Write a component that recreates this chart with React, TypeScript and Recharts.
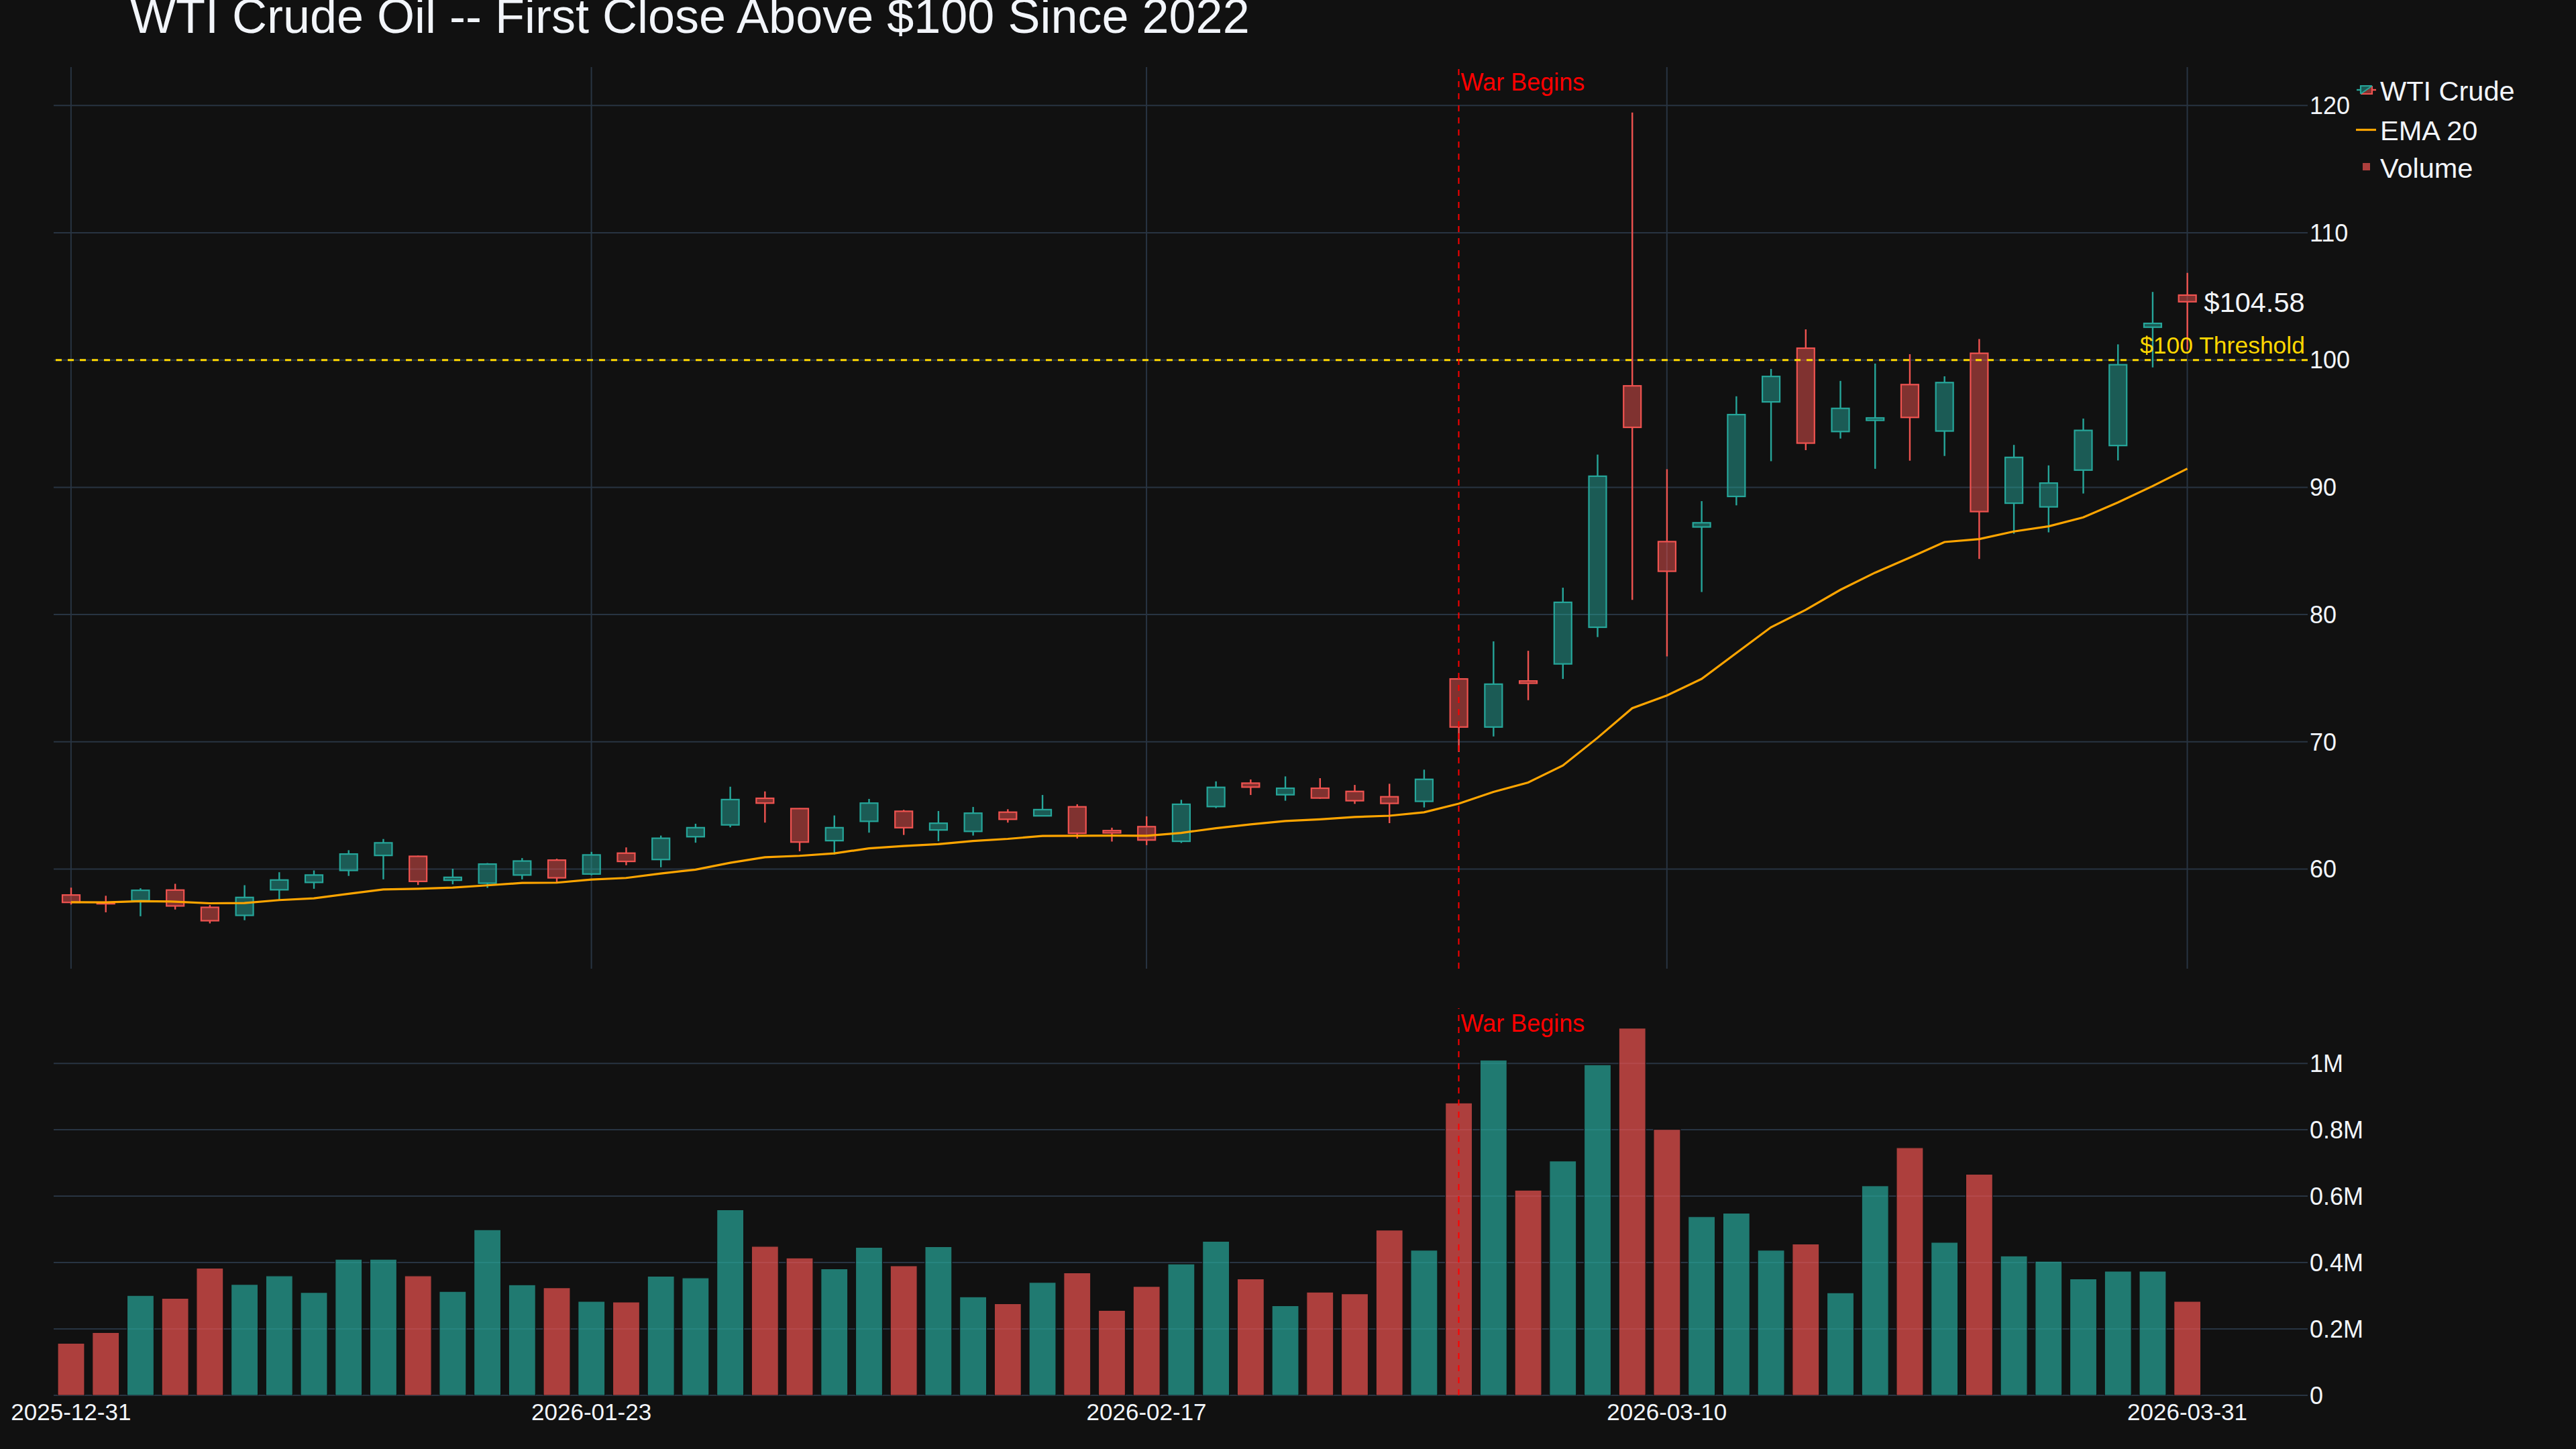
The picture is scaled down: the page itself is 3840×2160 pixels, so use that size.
import React from 'react';
import {
  ComposedChart,
  Bar,
  Line,
  XAxis,
  YAxis,
  CartesianGrid,
  ReferenceLine,
  ReferenceDot,
  Legend,
  Cell,
} from 'recharts';

// trading days shown on the chart
const DATES = [
  '2025-12-31', '2026-01-02', '2026-01-05', '2026-01-06', '2026-01-07', '2026-01-08', '2026-01-09',
  '2026-01-12', '2026-01-13', '2026-01-14', '2026-01-15', '2026-01-16',
  '2026-01-20', '2026-01-21', '2026-01-22', '2026-01-23',
  '2026-01-26', '2026-01-27', '2026-01-28', '2026-01-29', '2026-01-30',
  '2026-02-02', '2026-02-03', '2026-02-04', '2026-02-05', '2026-02-06',
  '2026-02-09', '2026-02-10', '2026-02-11', '2026-02-12', '2026-02-13',
  '2026-02-17', '2026-02-18', '2026-02-19', '2026-02-20',
  '2026-02-23', '2026-02-24', '2026-02-25', '2026-02-26', '2026-02-27',
  '2026-03-02', '2026-03-03', '2026-03-04', '2026-03-05', '2026-03-06',
  '2026-03-09', '2026-03-10', '2026-03-11', '2026-03-12', '2026-03-13',
  '2026-03-16', '2026-03-17', '2026-03-18', '2026-03-19', '2026-03-20',
  '2026-03-23', '2026-03-24', '2026-03-25', '2026-03-26', '2026-03-27',
  '2026-03-30', '2026-03-31',
];

const OPEN = [
  57.96, 57.35, 57.52, 58.35, 56.99, 56.36, 58.37, 58.95, 59.89, 61.07,
  61.0, 59.12, 58.89, 59.53, 60.7, 59.61, 61.25, 60.75, 62.54, 63.47,
  65.56, 64.75, 62.23, 63.75, 64.54, 63.07, 62.96, 64.47, 64.18, 64.89,
  63.02, 63.33, 62.18, 64.91, 66.75, 65.84, 66.35, 66.1, 65.68, 65.32,
  74.94, 71.16, 74.78, 76.12, 79.0, 97.97, 85.73, 86.88, 89.28, 96.71,
  100.93, 94.38, 95.26, 98.07, 94.42, 100.53, 88.75, 88.46, 91.35, 93.28,
  102.58, 105.1,
];

const HIGH = [
  58.54, 57.9, 58.49, 58.84, 57.17, 58.73, 59.75, 59.89, 61.48, 62.36,
  61.05, 60.02, 60.47, 60.86, 60.81, 61.35, 61.7, 62.63, 63.56, 66.47,
  66.1, 64.78, 64.21, 65.51, 64.65, 64.56, 64.88, 64.7, 65.82, 65.09,
  63.25, 64.14, 65.44, 66.89, 67.04, 67.28, 67.14, 66.61, 66.7, 67.81,
  75.05, 77.89, 77.15, 82.11, 92.57, 119.45, 91.42, 88.91, 97.15, 99.3,
  102.41, 98.36, 99.72, 100.46, 98.72, 101.65, 93.33, 91.72, 95.4, 101.23,
  105.35, 106.85,
];

const LOW = [
  57.21, 56.6, 56.29, 56.82, 55.73, 55.98, 57.56, 58.45, 59.46, 59.19,
  58.75, 58.8, 58.52, 59.19, 58.93, 59.51, 60.3, 60.14, 62.07, 63.28,
  63.65, 61.4, 61.14, 62.86, 62.68, 62.19, 62.63, 63.65, 64.15, 62.4,
  62.16, 61.88, 62.05, 64.79, 65.82, 65.37, 65.53, 65.12, 63.61, 64.84,
  69.2, 70.42, 73.27, 74.94, 78.23, 81.15, 76.71, 81.77, 88.58, 92.05,
  92.92, 93.83, 91.45, 92.09, 92.46, 84.37, 86.35, 86.46, 89.51, 92.11,
  99.42, 100.8,
];

const CLOSE = [
  57.38, 57.3, 58.33, 57.1, 55.94, 57.77, 59.14, 59.53, 61.18, 62.06,
  59.03, 59.35, 60.39, 60.63, 59.31, 61.11, 60.6, 62.42, 63.25, 65.46,
  65.18, 62.12, 63.25, 65.18, 63.25, 63.6, 64.39, 63.91, 64.67, 62.81,
  62.84, 62.28, 65.09, 66.42, 66.44, 66.35, 65.58, 65.37, 65.16, 67.05,
  71.16, 74.53, 74.6, 80.96, 90.87, 94.71, 83.4, 87.21, 95.71, 98.71,
  93.47, 96.2, 95.45, 95.49, 98.23, 88.09, 92.35, 90.33, 94.47, 99.63,
  102.88, 104.58,
];

const EMA20 = [
  57.4, 57.38, 57.47, 57.44, 57.31, 57.33, 57.56, 57.7, 58.05, 58.4,
  58.45, 58.54, 58.72, 58.91, 58.93, 59.17, 59.3, 59.65, 59.95, 60.49,
  60.93, 61.04, 61.23, 61.63, 61.81, 61.96, 62.21, 62.37, 62.6, 62.61,
  62.63, 62.61, 62.84, 63.21, 63.51, 63.77, 63.91, 64.09, 64.19, 64.46,
  65.14, 66.06, 66.8, 68.13, 70.31, 72.64, 73.64, 74.94, 76.97, 79.0,
  80.37, 81.94, 83.29, 84.47, 85.7, 85.93, 86.53, 86.93, 87.63, 88.81,
  90.09, 91.46,
];

const VOLUME = [
  157000, 189000, 301000, 292000, 383000, 334000, 360000, 310000, 410000, 410000,
  360000, 313000, 499000, 333000, 324000, 283000, 281000, 359000, 354000, 559000,
  449000, 414000, 381000, 446000, 390000, 448000, 297000, 276000, 340000, 369000,
  256000, 328000, 396000, 464000, 351000, 270000, 311000, 306000, 498000, 437000,
  881000, 1010000, 618000, 706000, 996000, 1106000, 801000, 538000, 549000, 437000,
  456000, 309000, 631000, 746000, 461000, 666000, 420000, 404000, 351000, 374000,
  374000, 283000,
];

const TICK_DATES = ['2025-12-31', '2026-01-23', '2026-02-17', '2026-03-10', '2026-03-31'];
const PRICE_TICKS = [60, 70, 80, 90, 100, 110, 120];
const VOLUME_TICKS = [0, 200000, 400000, 600000, 800000, 1000000];
const WAR_DATE = '2026-03-02';
const THRESHOLD = 100;

const UP = '#26a69a';
const DOWN = '#ef5350';
const EMA_COLOR = '#FFA500';
const GRID = '#283442';
const TEXT = '#f2f5fa';
const BG = '#111111';
const FONT = '"Liberation Sans", Arial, Helvetica, sans-serif';

const W = 3840;
const PLOT_LEFT = 80;
const AXIS_W = 400;
const X_DOMAIN: [number, number] = [-0.5, 64.47];

const data = DATES.map((date, i) => ({
  i,
  date,
  open: OPEN[i],
  high: HIGH[i],
  low: LOW[i],
  close: CLOSE[i],
  ema: EMA20[i],
  volume: VOLUME[i],
}));

const xTicks = TICK_DATES.map((d) => DATES.indexOf(d));
const warIndex = DATES.indexOf(WAR_DATE);
const last = data[data.length - 1];

function Candle(props: any) {
  const { x, y, width, height, payload } = props;
  if (!payload || height == null) return null;
  const up = payload.close >= payload.open;
  const color = up ? UP : DOWN;
  const span = payload.high - payload.low;
  const toY = (v: number) => y + ((payload.high - v) / span) * height;
  const cx = x + width / 2;
  const top = toY(Math.max(payload.open, payload.close));
  const bottom = toY(Math.min(payload.open, payload.close));
  const bodyH = Math.max(bottom - top, 1.5);
  return (
    <g>
      <line x1={cx} x2={cx} y1={y} y2={top} stroke={color} strokeWidth={2.4} />
      <line x1={cx} x2={cx} y1={top + bodyH} y2={y + height} stroke={color} strokeWidth={2.4} />
      <rect
        x={x}
        y={top}
        width={width}
        height={bodyH}
        fill={color}
        fillOpacity={0.5}
        stroke={color}
        strokeWidth={2.2}
      />
    </g>
  );
}

const warLabel = (props: any) => {
  const vb = props.viewBox || {};
  return (
    <text x={vb.x + 3} y={vb.y + 35} fill="#ff0000" fontSize={36} fontFamily={FONT}>
      War Begins
    </text>
  );
};

const thresholdLabel = (props: any) => {
  const vb = props.viewBox || {};
  return (
    <text
      x={vb.x + vb.width - 4}
      y={vb.y - 10}
      fill="#FFD700"
      fontSize={35.5}
      fontFamily={FONT}
      textAnchor="end"
    >
      $100 Threshold
    </text>
  );
};

const lastPriceLabel = (props: any) => {
  const vb = props.viewBox || {};
  const cy = vb.y + (vb.height || 0) / 2;
  const cx = vb.x + (vb.width || 0) / 2;
  return (
    <text x={cx + 25} y={cy} dy="0.355em" fill={TEXT} fontSize={41.5} fontFamily={FONT}>
      ${last.close.toFixed(2)}
    </text>
  );
};

function LegendBox() {
  const fs = 41.5;
  return (
    <svg width={330} height={180} style={{ display: 'block' }}>
      <g>
        <line x1={8} x2={14} y1={34} y2={34} stroke={UP} strokeWidth={2.4} />
        <line x1={31} x2={37} y1={34} y2={34} stroke={DOWN} strokeWidth={2.4} />
        <polygon points="14,28 31,28 14,40" fill={UP} fillOpacity={0.5} />
        <polygon points="31,28 31,40 14,40" fill={DOWN} fillOpacity={0.5} />
        <polyline points="14,40 14,28 31,28" fill="none" stroke={UP} strokeWidth={2.2} />
        <polyline points="14,40 31,40 31,28" fill="none" stroke={DOWN} strokeWidth={2.2} />
        <line x1={14} y1={40} x2={31} y2={28} stroke={UP} strokeWidth={2} />
      </g>
      <text x={43} y={35.5} dy="0.355em" fill={TEXT} fontSize={fs} fontFamily={FONT}>WTI Crude</text>
      <line x1={7} x2={37} y1={93.5} y2={93.5} stroke={EMA_COLOR} strokeWidth={3.2} />
      <text x={43} y={93.8} dy="0.355em" fill={TEXT} fontSize={fs} fontFamily={FONT}>EMA 20</text>
      <rect x={17} y={143} width={11} height={11} fill={DOWN} fillOpacity={0.7} />
      <text x={43} y={150.3} dy="0.355em" fill={TEXT} fontSize={fs} fontFamily={FONT}>Volume</text>
    </svg>
  );
}

const formatVolume = (v: number) => {
  if (v === 0) return '0';
  return `${+(v / 1000000).toFixed(1)}M`;
};

function App() {
  const tickStyle = { fill: TEXT, fontSize: 36, fontFamily: FONT };

  return (
    <div
      style={{
        position: 'absolute',
        left: 0,
        top: 0,
        width: W,
        height: 2160,
        background: BG,
        overflow: 'hidden',
        fontFamily: FONT,
      }}
    >
      <svg width={W} height={120} style={{ position: 'absolute', left: 0, top: 0 }}>
        <text x={194} y={49} fill={TEXT} fontSize={72} fontFamily={FONT}>
          WTI Crude Oil -- First Close Above $100 Since 2022
        </text>
      </svg>

      {/* price panel */}
      <div style={{ position: 'absolute', left: 0, top: 0 }}>
        <ComposedChart
          width={W}
          height={1454}
          data={data}
          margin={{ top: 100, right: 0, bottom: 10, left: PLOT_LEFT }}
        >
          <CartesianGrid
            stroke={GRID}
            strokeWidth={2}
            syncWithTicks
            horizontalValues={PRICE_TICKS}
            verticalValues={xTicks}
          />
          <XAxis
            dataKey="i"
            type="number"
            domain={X_DOMAIN}
            ticks={xTicks}
            allowDataOverflow
            hide
          />
          <YAxis
            orientation="right"
            width={AXIS_W}
            domain={[52.17, 123.02]}
            ticks={PRICE_TICKS}
            allowDataOverflow
            axisLine={false}
            tickLine={false}
            tickSize={0}
            tickMargin={3}
            tick={tickStyle}
          />
          <ReferenceLine
            y={THRESHOLD}
            stroke="#FFD700"
            strokeWidth={3}
            strokeDasharray="9 9"
            label={thresholdLabel}
          />
          <ReferenceLine
            x={warIndex}
            stroke="#ff0000"
            strokeWidth={2}
            strokeDasharray="9 9"
            label={warLabel}
          />
          <Bar
            dataKey={(d: any) => [d.low, d.high]}
            barSize={26}
            shape={(p: any) => <Candle {...p} />}
            isAnimationActive={false}
          />
          <Line
            dataKey="ema"
            type="linear"
            stroke={EMA_COLOR}
            strokeWidth={3.2}
            dot={false}
            activeDot={false}
            isAnimationActive={false}
          />
          <ReferenceDot
            x={last.i}
            y={last.close}
            r={1}
            fill="none"
            stroke="none"
            label={lastPriceLabel}
          />
          <Legend
            layout="vertical"
            align="center"
            verticalAlign="middle"
            content={() => <LegendBox />}
            wrapperStyle={{ position: 'absolute', left: 3505, top: 100, width: 330, height: 180 }}
          />
        </ComposedChart>
      </div>

      {/* volume panel */}
      <div style={{ position: 'absolute', left: 0, top: 1400 }}>
        <ComposedChart
          width={W}
          height={760}
          data={data}
          margin={{ top: 103, right: 0, bottom: 0, left: PLOT_LEFT }}
        >
          <CartesianGrid
            stroke={GRID}
            strokeWidth={2}
            vertical={false}
            syncWithTicks
            horizontalValues={VOLUME_TICKS}
          />
          <XAxis
            dataKey="i"
            type="number"
            domain={X_DOMAIN}
            ticks={xTicks}
            allowDataOverflow
            height={80}
            axisLine={false}
            tickLine={false}
            tickSize={0}
            tickMargin={12}
            tickFormatter={(v: number) => DATES[v]}
            tick={{ fill: TEXT, fontSize: 35, fontFamily: FONT }}
          />
          <YAxis
            orientation="right"
            width={AXIS_W}
            domain={[0, 1166000]}
            ticks={VOLUME_TICKS}
            allowDataOverflow
            axisLine={false}
            tickLine={false}
            tickSize={0}
            tickMargin={3}
            tickFormatter={formatVolume}
            tick={tickStyle}
          />
          <Bar dataKey="volume" barSize={40} isAnimationActive={false}>
            {data.map((d) => (
              <Cell
                key={d.date}
                fill={d.close >= d.open ? UP : DOWN}
                fillOpacity={0.7}
                stroke={BG}
                strokeWidth={1.2}
              />
            ))}
          </Bar>
          <ReferenceLine
            x={warIndex}
            stroke="#ff0000"
            strokeWidth={2}
            strokeDasharray="9 9"
            label={warLabel}
          />
        </ComposedChart>
      </div>
    </div>
  );
}

export default App;
